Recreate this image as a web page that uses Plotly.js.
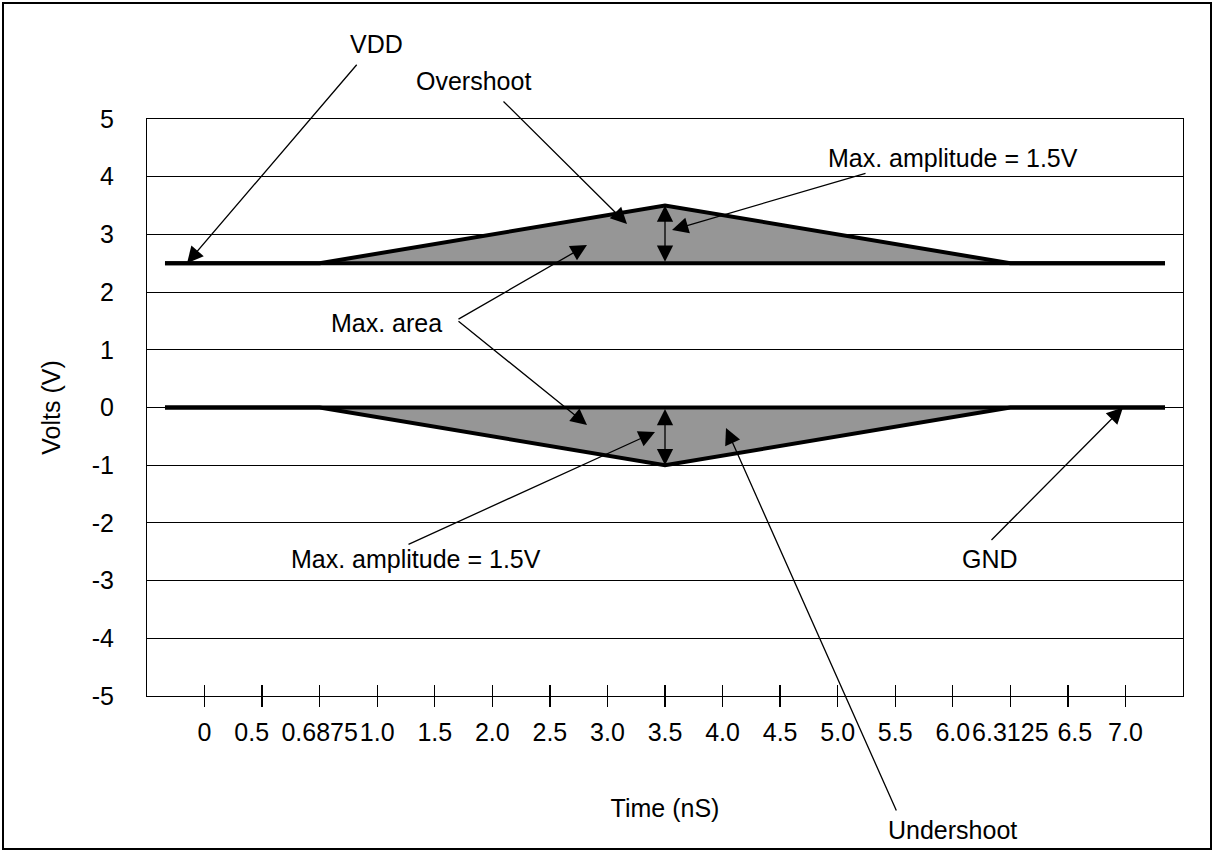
<!DOCTYPE html>
<html>
<head>
<meta charset="utf-8">
<script src="https://cdn.plot.ly/plotly-3.0.1.min.js"></script>
<style>
  html, body { margin: 0; padding: 0; background: #ffffff; }
  #chart { width: 1214px; height: 852px; }
</style>
</head>
<body>
<div id="chart"></div>
<script>
// ---- data ----
// (non-breaking spaces nudge two crowded labels the way the original does)
const timeLabels = ['0','0.5\u00a0\u00a0\u00a0','0.6875','1.0','1.5','2.0','2.5','3.0','3.5','4.0','4.5','5.0','5.5','6.0','6.3125','\u00a0\u00a06.5','7.0'];
const tickPos = [0,1,2,3,4,5,6,7,8,9,10,11,12,13,14,15,16];
const samplePos = [-0.6875, 2, 8, 14, 16.6875];   // positions along the (evenly spaced) time axis
const vddLevel  = [2.5, 2.5, 2.5, 2.5, 2.5];
const vddSignal = [2.5, 2.5, 3.5, 2.5, 2.5];
const gndLevel  = [0, 0, 0, 0, 0];
const gndSignal = [0, 0, -1, 0, 0];
const yTicks = [-5,-4,-3,-2,-1,0,1,2,3,4,5];
const yTickText = ['-5','-4','-3','-2','-1','0','1','2','3','4','5'];

// ---- layout helpers ----
const M = {l: 147, r: 31, t: 119, b: 156};
const W = 1214, H = 852;
const PW = W - M.l - M.r, PH = H - M.t - M.b;
const px = v => (v - M.l) / PW;        // pixel -> paper x
const py = v => (H - M.b - v) / PH;    // pixel -> paper y
const FONT = 'Arial, "Liberation Sans", sans-serif';
const FS = 25;
const fill = '#969696';

const lineStyle = {color: '#000000', width: 4};
const traces = [
  {x: samplePos, y: vddLevel, mode: 'lines', line: lineStyle, hoverinfo: 'skip', showlegend: false, xaxis: 'x', yaxis: 'y'},
  {x: samplePos, y: vddSignal, mode: 'lines', line: lineStyle, fill: 'tonexty', fillcolor: fill, hoverinfo: 'skip', showlegend: false, xaxis: 'x', yaxis: 'y'},
  {x: samplePos, y: gndLevel, mode: 'lines', line: lineStyle, hoverinfo: 'skip', showlegend: false, xaxis: 'x2', yaxis: 'y'},
  {x: samplePos, y: gndSignal, mode: 'lines', line: lineStyle, fill: 'tonexty', fillcolor: fill, hoverinfo: 'skip', showlegend: false, xaxis: 'x2', yaxis: 'y'}
];

function label(text, cx, cy) {
  return {text: text, xref: 'paper', yref: 'paper', x: px(cx), y: py(cy),
          xanchor: 'center', yanchor: 'middle', showarrow: false,
          font: {family: FONT, size: FS, color: '#000'}};
}
const AH = {showarrow: true, arrowhead: 2, arrowsize: 2.5, arrowwidth: 1.3, arrowcolor: '#000', standoff: 0, text: ''};
function arrow(x, y, ax, ay) {
  return Object.assign({xref: 'x', yref: 'y', x: x, y: y, ax: ax, ay: ay}, AH);
}
function dataX(p) { return -1 + (p - M.l) / (PW / 18); }
function dataY(p) { return 5 - (p - M.t) / (PH / 10); }

const annotations = [
  label('VDD', 376, 44),
  label('Overshoot', 473, 81),
  label('Max. amplitude = 1.5V', 953, 158),
  label('Max. area', 386, 323),
  label('Max. amplitude = 1.5V', 416, 559),
  label('GND', 990, 559),
  label('Undershoot', 952, 830),
  arrow(dataX(187), vddLevel[0], 358 - 187, 62 - 262),
  arrow(dataX(627), dataY(224), 502 - 627, 100 - 224),
  arrow(dataX(672), dataY(230), 867 - 672, 173 - 230),
  arrow(dataX(587), dataY(245), 457 - 587, 320 - 245),
  arrow(dataX(587), dataY(425), 457 - 587, 320 - 425),
  arrow(dataX(655), dataY(432), 407 - 655, 545 - 432),
  arrow(dataX(726), dataY(428), 897 - 726, 812 - 428),
  arrow(dataX(1123), gndLevel[4], 990 - 1123, 542 - 408),
  Object.assign({xref: 'x', yref: 'y', x: samplePos[2], y: vddSignal[2], axref: 'x', ayref: 'y',
                 ax: samplePos[2], ay: vddLevel[2], arrowside: 'end+start',
                 startarrowhead: 2, startarrowsize: 2.5}, AH),
  Object.assign({xref: 'x', yref: 'y', x: samplePos[2], y: gndSignal[2], axref: 'x', ayref: 'y',
                 ax: samplePos[2], ay: gndLevel[2], arrowside: 'end+start',
                 startarrowhead: 2, startarrowsize: 2.5}, AH)
];

const layout = {
  width: W, height: H,
  margin: M,
  paper_bgcolor: '#ffffff', plot_bgcolor: '#ffffff',
  font: {family: FONT, size: FS, color: '#000'},
  showlegend: false,
  xaxis: {
    range: [-1, 17], tickmode: 'array', tickvals: tickPos, ticktext: timeLabels, tickangle: 0,
    showgrid: false, zeroline: false, showline: true, mirror: true, linecolor: '#000', linewidth: 1,
    ticks: 'outside', ticklen: 10, tickwidth: 1.3, tickcolor: '#000', ticklabelstandoff: 4,
    tickfont: {family: FONT, size: FS, color: '#000'},
    title: {text: 'Time (nS)', standoff: 54, font: {family: FONT, size: FS, color: '#000'}},
    automargin: false, fixedrange: true
  },
  xaxis2: {
    overlaying: 'x', anchor: 'y', side: 'bottom',
    range: [-1, 17], tickmode: 'array', tickvals: tickPos,
    showticklabels: false, showgrid: false, zeroline: false, showline: false,
    ticks: 'inside', ticklen: 11, tickwidth: 1.3, tickcolor: '#000', fixedrange: true
  },
  yaxis: {
    range: [-5, 5], tickmode: 'array', tickvals: yTicks, ticktext: yTickText,
    showgrid: true, gridcolor: '#000', gridwidth: 1, zeroline: false,
    showline: true, mirror: true, linecolor: '#000', linewidth: 1,
    ticks: '', ticklabelstandoff: 27,
    tickfont: {family: FONT, size: FS, color: '#000'},
    title: {text: 'Volts (V)', standoff: 24, font: {family: FONT, size: FS, color: '#000'}},
    automargin: false, fixedrange: true
  },
  shapes: [
    {type: 'rect', xref: 'paper', yref: 'paper', x0: px(3), x1: px(1211), y0: py(849), y1: py(3),
     line: {color: '#000', width: 2}, fillcolor: 'rgba(0,0,0,0)', layer: 'above'}
  ],
  annotations: annotations
};

Plotly.newPlot('chart', traces, layout, {displayModeBar: false, staticPlot: true});
</script>
</body>
</html>
